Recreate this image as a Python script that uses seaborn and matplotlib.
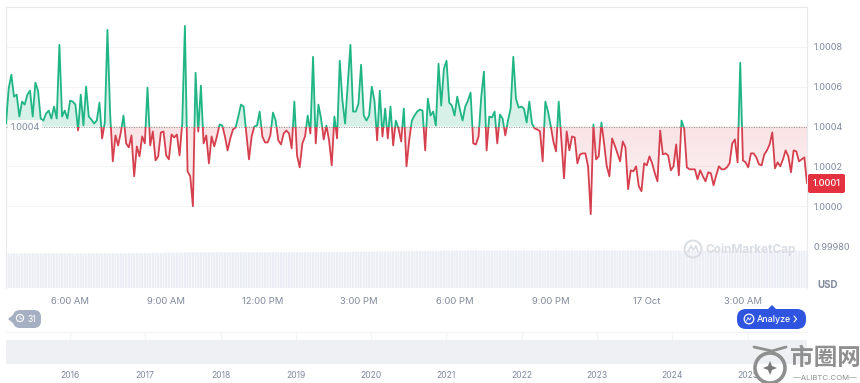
import matplotlib
matplotlib.use('Agg')
import matplotlib.pyplot as plt
from matplotlib.patches import Rectangle, Circle, FancyBboxPatch, Polygon
from matplotlib.path import Path
import seaborn as sns
import numpy as np
import pandas as pd

# price in units of 1e-4 above 1.0 (5 minute steps)
price_offset = [
    4.15, 5.9, 6.6, 5.5, 5.6, 4.5, 5.25, 5.1, 5.6, 5.8, 4.5, 6.2, 5.8, 4.4, 4.3, 4.65, 4.8, 4.4, 5.0, 4.4,
    8.1, 4.5, 4.8, 4.4, 5.3, 5.25, 5.1, 3.8, 5.6, 4.05, 6.0, 4.5, 4.35, 4.15, 4.3, 5.2, 3.4, 4.2, 8.85, 4.65,
    2.25, 3.55, 3.05, 3.7, 4.55, 3.15, 2.95, 3.55, 1.5, 3.0, 2.5, 3.5, 3.15, 5.95, 3.05, 3.75, 2.3, 2.5, 3.7, 3.75,
    2.55, 2.35, 3.6, 3.45, 3.6, 2.55, 4.15, 9.05, 1.75, 1.5, 0.0, 6.7, 3.75, 6.05, 3.15, 3.55, 2.15, 3.5, 3.0, 3.5,
    4.1, 4.05, 3.5, 2.8, 3.4, 3.85, 3.95, 4.5, 5.1, 5.0, 3.65, 2.35, 3.5, 4.0, 4.05, 4.75, 3.5, 3.2, 3.2, 3.55,
    4.7, 4.3, 3.3, 3.1, 3.65, 3.8, 3.65,
    2.9, 5.25, 2.55, 1.95, 3.15, 3.5, 4.55, 3.65, 7.5, 3.15, 5.1, 4.4, 3.35, 4.05, 3.3, 2.05, 4.5, 3.4, 7.3, 5.3,
    4.15, 6.1, 8.1, 4.75, 4.75, 5.15, 7.1, 4.55, 4.3, 4.55, 6.0, 5.3, 3.3, 5.8, 3.5, 4.9, 3.4, 5.0, 3.05, 4.3,
    3.9, 3.25, 4.9, 2.0, 3.3, 4.3, 4.55, 4.75, 4.85, 4.8, 2.8, 5.4, 4.55, 4.75, 4.05, 7.15, 5.05, 6.9, 7.3, 5.2,
    5.05, 4.55, 5.5, 4.85, 4.3, 5.0, 5.3, 5.7, 3.15, 3.1, 3.5, 5.5, 6.75, 2.8, 4.5, 4.45, 4.75, 3.15, 4.6, 4.4,
    3.55, 4.3, 4.9, 7.5, 5.4, 4.95, 5.0, 4.9, 4.2, 5.25, 4.15, 3.9, 3.85, 3.75, 2.25, 5.25, 4.75, 4.05, 3.25, 2.75,
    5.25, 3.3, 1.4, 3.75, 2.8,
    3.5, 3.45, 2.15, 2.6, 2.65, 2.65, 2.0, -0.4, 4.1, 2.35, 2.5, 4.2, 3.15, 2.0, 1.5, 3.4, 3.05, 2.65, 2.25, 3.25,
    2.95, 0.85, 1.8, 1.75, 2.0, 1.0, 0.75, 2.15, 2.05, 2.5, 2.15, 1.65, 1.25, 3.8, 2.6, 2.65, 2.55, 1.8, 2.0, 3.1,
    1.55, 4.3, 3.9, 1.95, 1.85, 1.85, 1.85, 1.35, 1.8, 1.5, 1.25, 1.7, 1.65, 1.05, 1.55, 2.0, 1.85, 1.85, 1.95, 2.15,
    3.15, 3.35, 2.2, 7.2, 2.3, 2.2, 1.95, 2.65, 2.65, 2.45, 2.1, 2.05, 2.6, 2.8, 3.1, 3.7, 1.9, 2.2, 2.0, 2.35,
    2.8, 2.5, 1.7, 2.8, 2.75, 2.25, 2.35, 2.45, 1.15,
]

# volume bars, read as height in pixels-ish (no scale on the picture)
volume = [
    34.5, 34.6, 34.5, 34.7, 34.6, 34.5, 34.6, 34.8, 34.6, 34.5, 34.7, 34.6, 34.5, 34.6, 34.5, 34.7, 34.6, 34.8, 34.6, 34.5,
    34.6, 34.7, 34.5, 34.6, 34.8, 34.6, 34.5, 34.6, 34.7, 34.6, 34.5, 34.7, 34.6, 34.5, 34.8, 34.6, 34.6, 34.7, 34.5, 34.6,
    34.8, 34.7, 34.6, 34.7, 34.8, 34.7, 34.8, 34.9, 34.8, 34.7, 34.9, 35.0, 34.8, 34.9, 35.0, 34.9, 35.1, 35.0, 34.9, 35.1,
    35.2, 35.3, 35.2, 35.4, 35.3, 35.5, 35.4, 35.6, 35.5, 35.7, 35.6, 35.7, 35.6, 35.8, 35.7, 35.6, 35.8, 35.7, 35.6, 35.7,
    35.8, 35.7, 35.6, 35.8, 35.7, 35.8, 35.7, 35.6, 35.7, 35.8, 35.7, 35.6, 35.8, 35.7, 35.6, 35.7, 35.8, 35.7, 35.6, 35.7,
    35.8, 35.7, 35.8, 35.7, 35.6, 35.8, 35.7, 35.8, 35.7, 35.6, 35.8, 35.7, 35.8, 35.9, 35.8, 35.7, 35.9, 35.8, 35.9, 36.0,
    35.9, 35.8, 36.0, 35.9, 36.0, 36.1, 36.0, 36.1, 36.2, 36.1, 36.2, 36.3, 36.2, 36.3, 36.4, 36.3, 36.4, 36.5, 36.4, 36.5,
    36.6, 36.5, 36.6, 36.7, 36.6, 36.7, 36.8, 36.7, 36.8, 36.9, 36.8, 36.9, 37.0, 36.9, 37.0, 37.1, 37.0, 37.1, 37.0, 37.1,
    37.2, 37.1, 37.2, 37.1, 37.2, 37.3, 37.2, 37.3, 37.2, 37.3, 37.4, 37.3, 37.2, 37.3, 37.4, 37.3, 37.4, 37.3, 37.2, 37.3,
    37.4, 37.3, 37.2, 37.3, 37.4, 37.3, 37.4, 37.3, 37.4, 37.3, 37.2, 37.3, 37.4, 37.3, 37.4, 37.3, 37.2, 37.3, 37.4, 37.3,
    37.4, 37.3, 37.2, 37.3, 37.4, 37.3, 37.4, 37.3, 37.2, 37.3, 37.4, 37.3, 37.4, 37.3, 37.2, 37.3, 37.4, 37.3, 37.4, 37.3,
    37.2, 37.3, 37.4, 37.3, 37.4, 37.3, 37.2, 37.3, 37.4, 37.3, 37.4, 37.3, 37.2, 37.3, 37.4, 37.3, 37.4, 37.3, 37.2, 37.3,
    37.4, 37.3, 37.2, 37.3, 37.4, 37.3, 37.4, 37.3, 37.2, 37.3, 37.4, 37.3, 37.4, 37.3, 37.2, 37.3, 37.4, 37.3, 37.2, 37.3,
    37.4, 37.3, 37.2, 37.3, 37.4, 37.3, 37.2, 37.3, 37.4, 37.3, 37.4, 37.3, 37.2, 37.3, 37.4, 37.3, 37.2, 37.3, 37.4, 37.3,
    37.4, 37.3, 37.2, 37.3, 37.4, 37.3, 37.2, 37.3, 37.4, 37.3, 37.2, 37.3, 37.4, 37.3, 37.2, 37.3, 37.4, 37.3, 37.2, 37.3,
    37.6,
]

baseline = 1.0004
last_price = 1.0001
price_ticks = [1.0000, 1.0002, 1.0004, 1.0006, 1.0008]
price_tick_labels = ['1.0000', '1.0002', '1.0004', '1.0006', '1.0008']

time_tick_hours = [2, 5, 8, 11, 14, 17, 20, 23]
time_tick_labels = ['6:00 AM', '9:00 AM', '12:00 PM', '3:00 PM', '6:00 PM', '9:00 PM', '17 Oct', '3:00 AM']

nav_years = [2015.15, 2016, 2017, 2018, 2019, 2020, 2021, 2022, 2023, 2024, 2025, 2025.79]
nav_level = [1.0, 1.0, 1.0, 1.0, 1.0, 1.0, 1.0, 1.0, 1.0, 1.0, 1.0, 1.0]
year_ticks = [2016, 2017, 2018, 2019, 2020, 2021, 2022, 2023, 2024, 2025]

GREEN = '#1fb584'
RED = '#d63f4e'
GREY = '#808a9d'
STAMP = '#8f8f8f'

sns.set_theme(style='white')
plt.rcParams['font.family'] = ['Inter', 'DejaVu Sans']

W, H = 860, 383
fig = plt.figure(figsize=(W / 100, H / 100), dpi=100)


def px_axes(left, top, right, bottom):
    return fig.add_axes([left / W, 1 - bottom / H, (right - left) / W, (bottom - top) / H])


df = pd.DataFrame({'price': 1 + np.array(price_offset) * 1e-4})
df['hours'] = df.index * 5 / 60
hour_end = df['hours'].iloc[-1]

# main price panel
ax = px_axes(6, 7, 807, 246)
ax.set_xlim(0, hour_end)
ax.set_ylim(0.9998, 1.0010)


def gradient_fill(where_mask, rgb, alpha_top, alpha_bottom):
    poly = ax.fill_between(df['hours'], df['price'], baseline, where=where_mask, interpolate=True,
                           color='none', linewidth=0)
    grad = np.zeros((256, 2, 4))
    grad[..., :3] = matplotlib.colors.to_rgb(rgb)
    grad[..., 3] = np.linspace(alpha_top, alpha_bottom, 256)[:, None]
    im = ax.imshow(grad, extent=[0, hour_end, 0.9998, 1.0010], aspect='auto', origin='upper', zorder=1)
    im.set_clip_path(Path.make_compound_path(*poly.get_paths()), ax.transData)


gradient_fill(df['price'] >= baseline, GREEN, 0.18, 0.18)
# gradient spans the whole axis, baseline sits at the half way point
gradient_fill(df['price'] <= baseline, RED, 0.3, 0.0)

ax.set_ylim(0.9998, 1.0010)
ax.set_xlim(0, hour_end)

for color, y0, y1 in [(GREEN, baseline, 1.0010), (RED, 0.9998, baseline)]:
    sns.lineplot(data=df, x='hours', y='price', color=color, linewidth=1.3, ax=ax, zorder=3)
    line = ax.lines[-1]
    line.set_clip_path(Rectangle((0, y0), hour_end, y1 - y0, transform=ax.transData))

ax.axhline(baseline, color='#7d7d7d', linewidth=0.6, linestyle=(0, (1, 2)), zorder=4)

ax.set_xlabel('')
ax.set_ylabel('')
ax.yaxis.tick_right()
ax.set_yticks(price_ticks + [0.9998], labels=price_tick_labels + ['0.99980'])
ax.tick_params(axis='y', length=0, pad=4.5, labelsize=6.6, labelcolor=GREY)
ax.set_xticks([])
ax.grid(axis='y', color='#f3f4f6', linewidth=0.8)
ax.set_axisbelow(True)
for s in ['top', 'left', 'right', 'bottom']:
    ax.spines[s].set_color('#e6e8ec')
    ax.spines[s].set_linewidth(0.8)

# volume strip
ax_vol = px_axes(6, 246, 807, 288)
sns.barplot(data=df.assign(volume=volume), x='hours', y='volume', native_scale=True, color='#ebeff5',
            width=0.8, saturation=1, ax=ax_vol)
for bar in ax_vol.patches:
    bar.set_snap(False)
    bar.set_linewidth(0)
ax_vol.set_xlim(0, hour_end)
ax_vol.set_ylim(0, 42)
ax_vol.set_xlabel('')
ax_vol.set_ylabel('')
ax_vol.set_yticks([])
ax_vol.set_xticks(time_tick_hours, labels=time_tick_labels)
ax_vol.tick_params(axis='x', length=0, pad=6.5, labelsize=6.8, labelcolor=GREY)
for s in ['top', 'bottom']:
    ax_vol.spines[s].set_visible(False)
for s in ['left', 'right']:
    ax_vol.spines[s].set_color('#e9ebef')
    ax_vol.spines[s].set_linewidth(0.8)

# range navigator
ax_nav = px_axes(6, 332, 807, 364)
ax_nav.fill_between(nav_years, 0, nav_level, color='#eef0f3', linewidth=0)
ax_nav.set_xlim(nav_years[0], nav_years[-1])
ax_nav.set_ylim(0, 32 / 24)
ax_nav.vlines(year_ticks, 1.0, 32 / 24, color='#f3f4f6', linewidth=0.8)
ax_nav.set_yticks([])
ax_nav.set_xticks(year_ticks, labels=[str(y) for y in year_ticks])
ax_nav.tick_params(axis='x', length=0, pad=5, labelsize=6.2, labelcolor=GREY)
for s in ['left', 'right', 'bottom']:
    ax_nav.spines[s].set_visible(False)
ax_nav.spines['top'].set_color('#f3f4f6')
ax_nav.spines['top'].set_linewidth(0.8)
ax_nav.patch.set_alpha(0)

# decorations, in pixel coordinates
ov = fig.add_axes([0, 0, 1, 1], zorder=10)
ov.set_xlim(0, W)
ov.set_ylim(H, 0)
ov.axis('off')
ov.patch.set_alpha(0)

ov.add_patch(Rectangle((8, 120), 34, 14, facecolor='white', alpha=0.9, edgecolor='none'))
ov.text(11, 127, '1.0004', fontsize=6.6, color=GREY, va='center')

ov.add_patch(FancyBboxPatch((808, 174), 37, 19, boxstyle='round,pad=0,rounding_size=2', facecolor='#e4313f', edgecolor='none'))
ov.text(826.5, 183.5, '1.0001', fontsize=6.6, color='white', va='center', ha='center', fontweight='medium')
ov.text(828, 284.5, 'USD', fontsize=7, color=GREY, va='center', ha='center', fontweight='bold')

# watermark
ov.add_patch(Circle((693, 249), 8.5, fill=False, edgecolor='#d9dde3', linewidth=1.4))
ov.plot([688, 691, 693.5, 696, 698], [252, 246, 250, 246, 252], color='#d9dde3', linewidth=1.2)
ov.text(705, 249.5, 'CoinMarketCap', fontsize=8.5, color='#d9dde3', va='center', fontweight='bold')

# history bubble
ov.add_patch(FancyBboxPatch((13, 310), 28, 18, boxstyle='round,pad=0,rounding_size=7', facecolor='#a6b0c3', edgecolor='none'))
ov.add_patch(Polygon([[8, 319], [14, 314], [14, 324]], facecolor='#a6b0c3', edgecolor='none'))
ov.add_patch(Circle((20, 318), 3.6, fill=False, edgecolor='white', linewidth=0.8))
ov.plot([20, 20, 22], [316, 318.2, 319], color='white', linewidth=0.6)
ov.text(32, 319, '31', fontsize=6.2, color='white', va='center', ha='center')

# analyze button
ov.add_patch(FancyBboxPatch((737, 309), 69, 20, boxstyle='round,pad=0,rounding_size=9', facecolor='#2f55e0', edgecolor='none'))
ov.add_patch(Polygon([[768, 309], [772, 305], [776, 309]], facecolor='#2f55e0', edgecolor='none'))
ov.add_patch(Circle((749, 319), 4.8, fill=False, edgecolor='white', linewidth=0.9))
ov.plot([746.5, 748, 749.5, 751], [321, 317.5, 320, 317.5], color='white', linewidth=0.6)
ov.text(757, 319, 'Analyze', fontsize=6.4, color='white', va='center', fontweight='medium')
ov.plot([794, 796.5, 794], [316, 319, 322], color='white', linewidth=0.8)

# 市圈网 stamp
ov.add_patch(Circle((770, 368), 15, fill=False, edgecolor=STAMP, linewidth=2.6))
ov.plot([754, 772, 786], [347, 351, 347], color=STAMP, linewidth=2.0)
ov.add_patch(Polygon([[770, 361], [772, 366], [777, 368], [772, 370], [770, 375], [768, 370], [763, 368], [768, 366]],
                     facecolor='#7a7a7a', edgecolor='none'))
ov.text(825, 358, '市圈网', fontsize=17, color=STAMP, va='center', ha='center', fontweight='bold',
        family=['Noto Sans CJK SC', 'DejaVu Sans'])
ov.text(825, 377.5, '—ALIBTC.COM—', fontsize=5.6, color=STAMP, va='center', ha='center')

fig.savefig('out.png', dpi=100)
plt.close(fig)
